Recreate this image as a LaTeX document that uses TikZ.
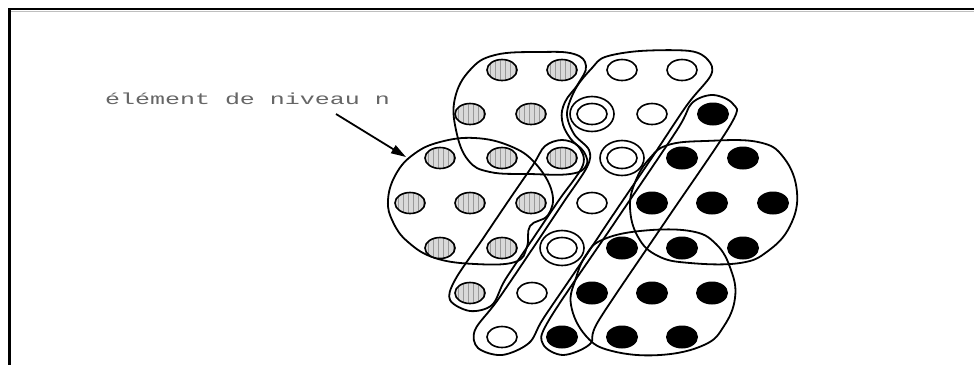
\documentclass[tikz,border=0pt]{standalone}
\usepackage{fontspec}
\newfontfamily\labelfont{Liberation Mono}
\usetikzlibrary{arrows.meta}
\newcommand\HatchDot[2]{%
  \fill[gray!30] (#1,#2) ellipse [x radius=15, y radius=10.5];
  \begin{scope}
    \clip (#1,#2) ellipse [x radius=15, y radius=10.5];
    \foreach \k in {-12,-7,...,13} \draw[gray!80, line width=1pt] ({#1+\k},{#2-12}) -- ({#1+\k},{#2+12});
  \end{scope}
  \draw[dotline] (#1,#2) ellipse [x radius=15, y radius=10.5];
}
\newcommand\WhiteDot[2]{\draw[dotline, fill=white] (#1,#2) ellipse [x radius=15, y radius=10.5];}
\newcommand\BlackDot[2]{\fill[black] (#1,#2) ellipse [x radius=16, y radius=11.5];}
\newcommand\RingDot[2]{\draw[dotline] (#1,#2) ellipse [x radius=22, y radius=17.5];}
\begin{document}
\begin{tikzpicture}[x=1pt,y=-1pt,
  loopline/.style={line width=1.8pt, black, line join=round},
  dotline/.style={line width=1.6pt, black},
  frameline/.style={line width=2.2pt, black},
  pointer/.style={line width=1.8pt, black, -{Triangle[length=15pt,width=9pt]}},
  lbl/.style={text=gray!80!black, inner sep=0pt, anchor=base west}]
\useasboundingbox (0,0) rectangle (974,365);
\fill[white] (0,0) rectangle (974,365);
% frame
\draw[frameline] (974,9) -- (9.5,9) -- (9.5,365);
\draw[gray!50, line width=1pt] (11,11.8) -- (974,11.8);

% level-n loops
% top hatched blob
\draw[loopline] plot[smooth cycle, tension=0.7] coordinates {
 (455,98) (470,70) (495,55) (540,52) (574,54) (586,66) (578,84) (565,102) (562,120)
 (570,138) (584,152) (586,166) (570,174) (530,174) (490,172) (468,160) (456,130)};
% left hatched blob
\draw[loopline] plot[smooth cycle, tension=0.7] coordinates {
 (388,200) (396,174) (414,154) (440,142) (475,138) (510,146) (535,163) (552,192)
 (548,215) (530,226) (527,247) (515,262) (475,264) (435,258) (408,242) (393,222)};
% white snake
\draw[loopline] plot[smooth cycle, tension=0.55] coordinates {
 (605,57) (640,51) (690,51) (708,60) (711,75) (687,105) (651,159) (615,212) (579,266)
 (543,319) (529,343) (502,355) (478,348) (475,330) (497,301) (533,248) (563,203)
 (587,167) (589,150) (574,134) (567,113) (576,88) (592,68)};
% hatched diagonal loop
\draw[loopline] plot[smooth cycle, tension=0.55] coordinates {
 (505,280) (532,240) (559,200) (583,165) (578,146) (562,140) (545,146) (533,165)
 (509,200) (482,240) (455,280) (450,300) (470,311) (492,305)};
% black diagonal loop
\draw[loopline] plot[smooth cycle, tension=0.55] coordinates {
 (549,320) (613,225) (677,130) (692,103) (713,95) (733,104) (731,124) (665,222)
 (599,320) (590,344) (563,355) (543,344)};
% right black blob
\draw[loopline] plot[smooth cycle, tension=0.7] coordinates {
 (650,158) (668,145) (705,141) (758,142) (784,158) (797,192) (790,226) (768,251)
 (740,263) (690,263) (658,256) (638,237) (630,207) (636,180)};
% bottom black blob
\draw[loopline] plot[smooth cycle, tension=0.7] coordinates {
 (602,240) (640,231) (690,231) (716,244) (731,270) (735,298) (724,326) (704,345)
 (660,355) (612,351) (586,336) (571,305) (576,278) (586,255)};

% rings around single dots
\RingDot{592}{114}
\RingDot{622}{158}
\RingDot{562}{248}

% dots, row by row
\HatchDot{502}{70} \HatchDot{562}{70} \WhiteDot{622}{70} \WhiteDot{682}{70}
\HatchDot{470}{114} \HatchDot{531}{114} \WhiteDot{592}{114} \WhiteDot{652}{114} \BlackDot{713}{114}
\HatchDot{440}{158} \HatchDot{502}{158} \HatchDot{562}{158} \WhiteDot{622}{158} \BlackDot{682}{158} \BlackDot{743}{158}
\HatchDot{410}{203} \HatchDot{470}{203} \HatchDot{531}{203} \WhiteDot{592}{203} \BlackDot{652}{203} \BlackDot{712}{203} \BlackDot{773}{203}
\HatchDot{440}{248} \HatchDot{502}{248} \WhiteDot{562}{248} \BlackDot{622}{248} \BlackDot{682}{248} \BlackDot{743}{248}
\HatchDot{470}{293} \WhiteDot{532}{293} \BlackDot{592}{293} \BlackDot{652}{293} \BlackDot{712}{293}
\WhiteDot{502}{337} \BlackDot{562}{337} \BlackDot{622}{337} \BlackDot{682}{337}

% label and arrow
\node[lbl] (label) at (105,104) {\scalebox{1.56}[1]{\fontsize{16}{16}\labelfont élément de niveau n}};
\coordinate (arrowstart) at (336,114);
\coordinate (arrowtip) at (406,157);
\draw[pointer] (arrowstart) -- (arrowtip);
\end{tikzpicture}
\end{document}
